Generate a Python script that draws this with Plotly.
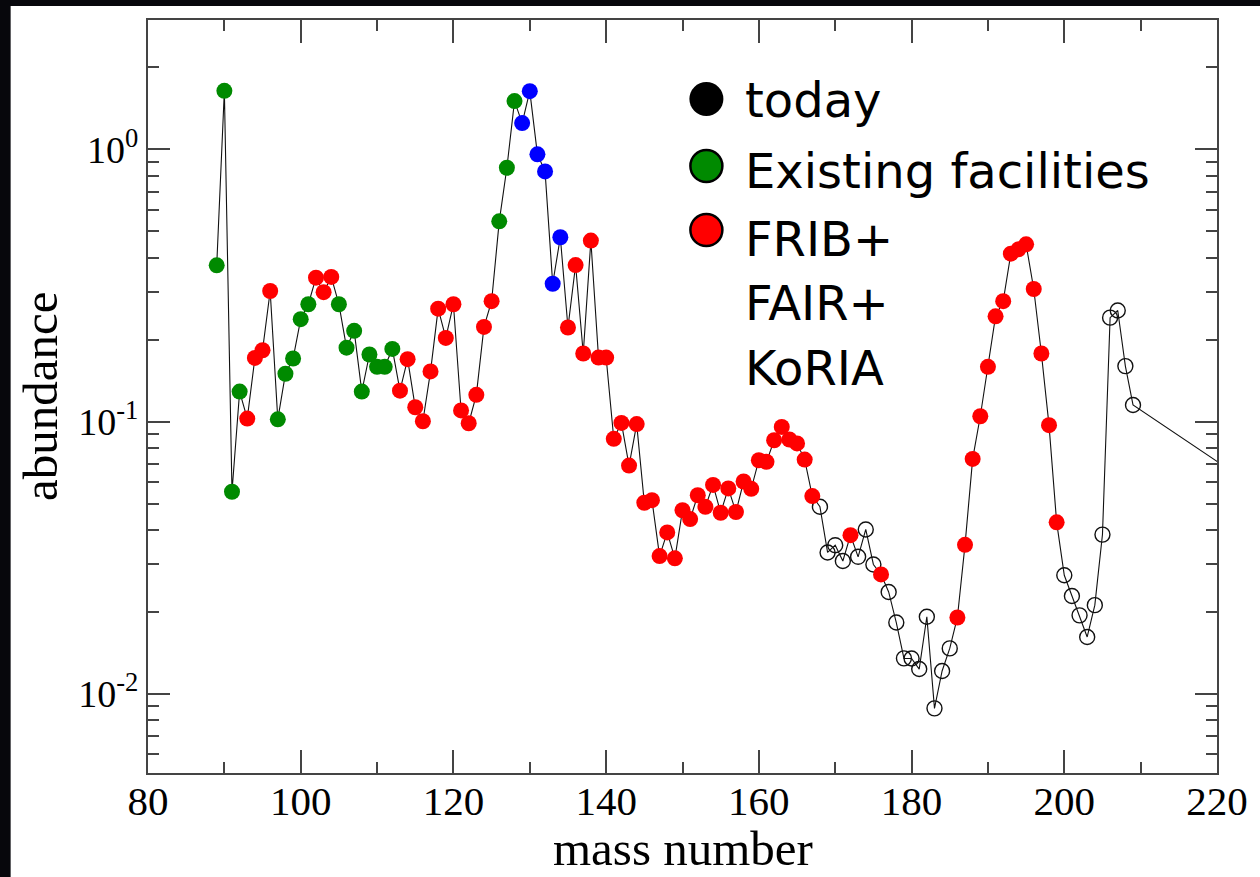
import plotly.graph_objects as go

# r-process abundance versus mass number
mass_number = list(range(89, 210)) + [232]

abundance = [
    0.375, 1.64, 0.0553, 0.129, 0.1027, 0.1715, 0.183, 0.302, 0.102, 0.150,      # 89-98
    0.1706, 0.238, 0.270, 0.338, 0.299, 0.340, 0.270, 0.187, 0.2156, 0.129,      # 99-108
    0.1765, 0.159, 0.159, 0.185, 0.130, 0.1696, 0.113, 0.1004, 0.153, 0.260,     # 109-118
    0.203, 0.270, 0.110, 0.0987, 0.1255, 0.2228, 0.277, 0.544, 0.856, 1.504,     # 119-128
    1.249, 1.636, 0.959, 0.830, 0.321, 0.4755, 0.2217, 0.376, 0.178, 0.4623,     # 129-138
    0.172, 0.172, 0.0865, 0.099, 0.069, 0.098, 0.0504, 0.0515, 0.0321, 0.0392,   # 139-148
    0.0315, 0.0473, 0.0439, 0.0537, 0.0487, 0.0586, 0.0463, 0.0569, 0.0466, 0.0603,  # 149-158
    0.0567, 0.0722, 0.0712, 0.0855, 0.0957, 0.086, 0.0832, 0.0726, 0.0533, 0.0487,   # 159-168
    0.0331, 0.0352, 0.0308, 0.0383, 0.0319, 0.0402, 0.0299, 0.0275, 0.0237, 0.0183,  # 169-178
    0.01352, 0.0135, 0.01235, 0.01922, 0.00886, 0.01215, 0.01471, 0.0191, 0.0353, 0.073,  # 179-188
    0.1047, 0.159, 0.2438, 0.277, 0.414, 0.4296, 0.448, 0.307, 0.178, 0.0971,    # 189-198
    0.0427, 0.0273, 0.0229, 0.01945, 0.0162, 0.0212, 0.0385, 0.241, 0.256, 0.160,    # 199-208
    0.1152,                                                                      # 209
    0.0425,                                                                      # 232
]

# G = existing facilities, B = measured today at peak, R = FRIB+/FAIR+/KoRIA, T = today (open)
category = (
    ["G"] * 4 + ["R"] * 4 + ["G"] * 5 + ["R"] * 3 + ["G"] * 8 +      # 89-112
    ["R"] * 13 + ["G"] * 3 + ["B"] * 6 +                              # 113-134
    ["R"] * 33 +                                                      # 135-167
    ["T"] * 4 + ["R"] + ["T"] * 3 + ["R"] + ["T"] * 9 +               # 168-185
    ["R"] * 14 + ["T"] * 10 +                                         # 186-209
    ["T"]                                                             # 232
)

x_ticks = [80, 100, 120, 140, 160, 180, 200, 220]
y_ticks = [0.01, 0.1, 1]
y_ticktext = ["10<sup>-2</sup>", "10<sup>-1</sup>", "10<sup>0</sup>"]
y_minor = [k * 10.0 ** d for d in (-3, -2, -1, 0) for k in range(2, 10)]

legend_labels = ["today", "Existing facilities", "FRIB+", "FAIR+", "KoRIA"]

fill_colors = {"G": "#008a00", "R": "#ff0000", "B": "#0000ff"}

SERIF = "Liberation Serif"
SANS = "DejaVu Sans"

fig = go.Figure()

# connecting line through every nucleus
fig.add_trace(go.Scatter(
    x=mass_number, y=abundance, mode="lines",
    line=dict(color="#111111", width=1.1),
    hoverinfo="skip", showlegend=False,
))

# open circles: currently known
tx = [m for m, c in zip(mass_number, category) if c == "T"]
ty = [a for a, c in zip(abundance, category) if c == "T"]
fig.add_trace(go.Scatter(
    x=tx, y=ty, mode="markers",
    marker=dict(symbol="circle-open", size=15, color="#111111", line=dict(width=1.4)),
    showlegend=False,
))

# filled circles by reach
for code in ["G", "B", "R"]:
    fx = [m for m, c in zip(mass_number, category) if c == code]
    fy = [a for a, c in zip(abundance, category) if c == code]
    fig.add_trace(go.Scatter(
        x=fx, y=fy, mode="markers",
        marker=dict(symbol="circle", size=16, color=fill_colors[code], line=dict(width=0)),
        showlegend=False,
    ))

axis_common = dict(
    showgrid=False, zeroline=False,
    showline=True, linecolor="#444444", linewidth=2,
    mirror="ticks", ticks="inside", tickcolor="#444444", tickwidth=2,
)

fig.update_xaxes(
    range=[80, 220], tickvals=x_ticks, ticklen=23,
    tickfont=dict(family=SERIF, size=41, color="black"),
    ticklabelstandoff=-9,
    minor=dict(ticks="inside", dtick=10, tick0=80, ticklen=11,
               tickcolor="#444444", tickwidth=2),
    **axis_common,
)
fig.update_yaxes(
    type="log", range=[-2.29, 0.475],
    tickvals=y_ticks, ticktext=y_ticktext, ticklen=22,
    tickfont=dict(family=SERIF, size=38, color="black"),
    minor=dict(ticks="inside", tickvals=y_minor, ticklen=11,
               tickcolor="#444444", tickwidth=2),
    **axis_common,
)

shapes = [
    # dark frame strips around the white panel
    dict(type="rect", xref="paper", yref="paper", x0=-0.15, x1=1.05, y0=1.0186, y1=1.04,
         fillcolor="#07070c", line=dict(width=0), layer="above"),
    dict(type="rect", xref="paper", yref="paper", x0=-0.15, x1=-0.1285, y0=-0.2, y1=1.04,
         fillcolor="#07070c", line=dict(width=0), layer="above"),
]

# legend swatches
swatch_x = (709 - 148) / 1074
for py, fill, outline, d in [(99, "#000000", 0, 34), (166, "#008a00", 2.5, 32), (230, "#ff0000", 2.5, 32)]:
    yc = (773 - py) / 753
    shapes.append(dict(
        type="circle", xref="paper", yref="paper",
        xsizemode="pixel", ysizemode="pixel",
        xanchor=swatch_x, yanchor=yc,
        x0=-d / 2, x1=d / 2, y0=-d / 2, y1=d / 2,
        fillcolor=fill, line=dict(color="black", width=outline), layer="above",
    ))

annotations = []
text_x = (746 - 148) / 1074
for label, py in zip(legend_labels, [100, 171, 239, 303, 368]):
    annotations.append(dict(
        text=label, xref="paper", yref="paper",
        x=text_x, y=(773 - py) / 753, xanchor="left", yanchor="middle",
        showarrow=False, font=dict(family=SANS, size=48, color="black"),
    ))

# axis titles
annotations.append(dict(
    text="mass number", xref="paper", yref="paper",
    x=0.5, y=(773 - 849) / 753, xanchor="center", yanchor="middle",
    showarrow=False, font=dict(family=SERIF, size=49, color="black"),
))
annotations.append(dict(
    text="abundance", xref="paper", yref="paper",
    x=(40 - 148) / 1074, y=0.5, xanchor="center", yanchor="middle", textangle=-90,
    showarrow=False, font=dict(family=SERIF, size=49, color="black"),
))

fig.update_layout(
    width=1260, height=877, autosize=False,
    margin=dict(l=148, r=38, t=20, b=104),
    paper_bgcolor="white", plot_bgcolor="white",
    shapes=shapes, annotations=annotations,
    showlegend=False,
)

fig.write_html("out.html")
